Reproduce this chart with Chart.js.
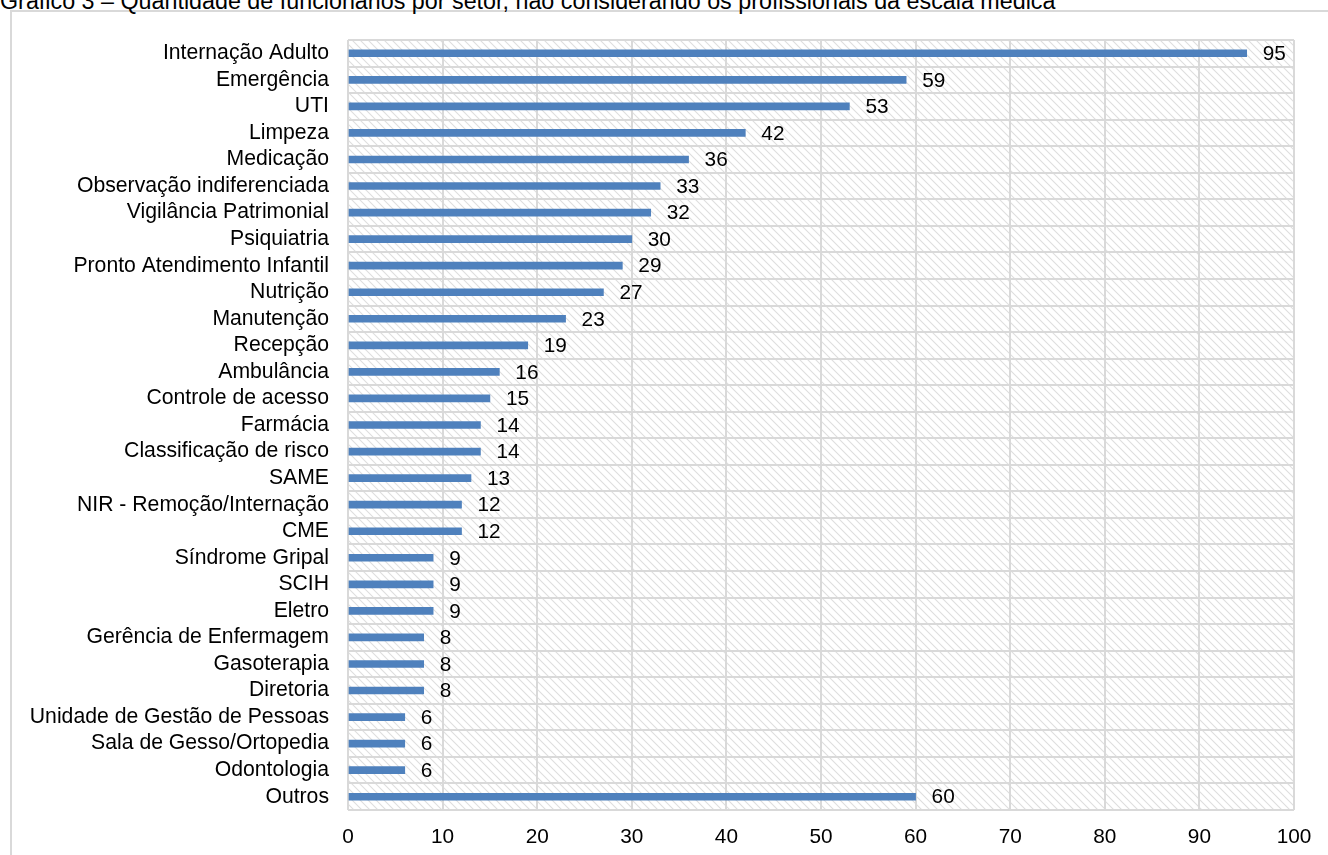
<!DOCTYPE html>
<html>
<head>
<meta charset="utf-8">
<script src="https://cdn.jsdelivr.net/npm/chart.js@4.4.0/dist/chart.umd.min.js"></script>
<style>
	body { margin: 0; background: #fff; overflow: hidden; }
	#moldura { position: absolute; left: 10px; top: 10px; width: 1400px; height: 900px; border: 2px solid #d9d9d9; }
	#titulo { position: absolute; left: 0; top: -10px; font: 23.3px "Liberation Sans", Arial, sans-serif; line-height: 23px; white-space: nowrap; color: #000; }
	#container_grafico { position: absolute; left: 0; top: 0; width: 1328px; height: 855px; }
</style>
</head>
<body>
<div id="moldura"></div>
<div id="titulo">Gráfico 3 – Quantidade de funcionários por setor, não considerando os profissionais da escala médica</div>
<div id="container_grafico"><canvas id="grafico_setores"></canvas></div>
<script>
var setores = [
	"Internação Adulto", "Emergência", "UTI", "Limpeza", "Medicação",
	"Observação indiferenciada", "Vigilância Patrimonial", "Psiquiatria",
	"Pronto Atendimento Infantil", "Nutrição", "Manutenção", "Recepção",
	"Ambulância", "Controle de acesso", "Farmácia", "Classificação de risco",
	"SAME", "NIR - Remoção/Internação", "CME", "Síndrome Gripal", "SCIH",
	"Eletro", "Gerência de Enfermagem", "Gasoterapia", "Diretoria",
	"Unidade de Gestão de Pessoas", "Sala de Gesso/Ortopedia", "Odontologia", "Outros"
];
var funcionarios = [95, 59, 53, 42, 36, 33, 32, 30, 29, 27, 23, 19, 16, 15, 14, 14, 13, 12, 12, 9, 9, 9, 8, 8, 8, 6, 6, 6, 60];
var eixo_min = 0;
var eixo_max = 100;
var eixo_passo = 10;

var fonte = "'Liberation Sans', Arial, sans-serif";

// fundo hachurado da area do grafico
var fundo_hachura = {
	id: "fundo_hachura",
	beforeDraw: function (chart) {
		var area = chart.chartArea;
		var ctx = chart.ctx;
		var tile = document.createElement("canvas");
		tile.width = 8;
		tile.height = 8;
		var t = tile.getContext("2d");
		t.strokeStyle = "#dedede";
		t.lineWidth = 1.1;
		t.beginPath();
		t.moveTo(-1, -1);
		t.lineTo(9, 9);
		t.moveTo(-1, 7);
		t.lineTo(1, 9);
		t.moveTo(7, -1);
		t.lineTo(9, 1);
		t.stroke();
		ctx.save();
		ctx.fillStyle = ctx.createPattern(tile, "repeat");
		ctx.fillRect(area.left, area.top, area.right - area.left, area.bottom - area.top);
		ctx.restore();
	},
};

// rotulos de valor no fim das barras
var rotulos_valor = {
	id: "rotulos_valor",
	afterDatasetsDraw: function (chart) {
		var ctx = chart.ctx;
		var meta = chart.getDatasetMeta(0);
		ctx.save();
		ctx.font = "20.8px " + fonte;
		ctx.fillStyle = "#000";
		ctx.textAlign = "left";
		ctx.textBaseline = "middle";
		meta.data.forEach(function (barra, i) {
			ctx.fillText(String(funcionarios[i]), barra.x + 16, barra.y + 1);
		});
		ctx.restore();
	},
};

var config_setores = {
	type: "bar",
	data: {
		labels: setores,
		datasets: [
			{
				label: "Funcionários",
				data: funcionarios,
				backgroundColor: "#4f81bd",
				borderWidth: 0,
				barThickness: 7,
			},
		],
	},
	options: {
		indexAxis: "y",
		responsive: true,
		maintainAspectRatio: false,
		animation: false,
		layout: {
			padding: { left: 0, right: 34, top: 40, bottom: 0 },
		},
		scales: {
			x: {
				min: eixo_min,
				max: eixo_max,
				ticks: {
					stepSize: eixo_passo,
					color: "#000",
					padding: 15,
					font: { family: fonte, size: 20.8 },
				},
				grid: { color: "#d9d9d9", lineWidth: 2, drawTicks: false },
				border: { display: false },
				afterFit: function (escala) {
					escala.height = 45;
				},
			},
			y: {
				ticks: {
					color: "#000",
					padding: 19,
					autoSkip: false,
					font: { family: fonte, size: 21.2 },
				},
				grid: { color: "#d9d9d9", lineWidth: 2, drawTicks: false, offset: true },
				border: { display: false },
				afterFit: function (escala) {
					escala.width = 348;
				},
			},
		},
		plugins: {
			legend: { display: false },
			tooltip: { enabled: false },
		},
	},
	plugins: [fundo_hachura, rotulos_valor],
};

var chart_setores = new Chart(document.getElementById("grafico_setores"), config_setores);
</script>
</body>
</html>
